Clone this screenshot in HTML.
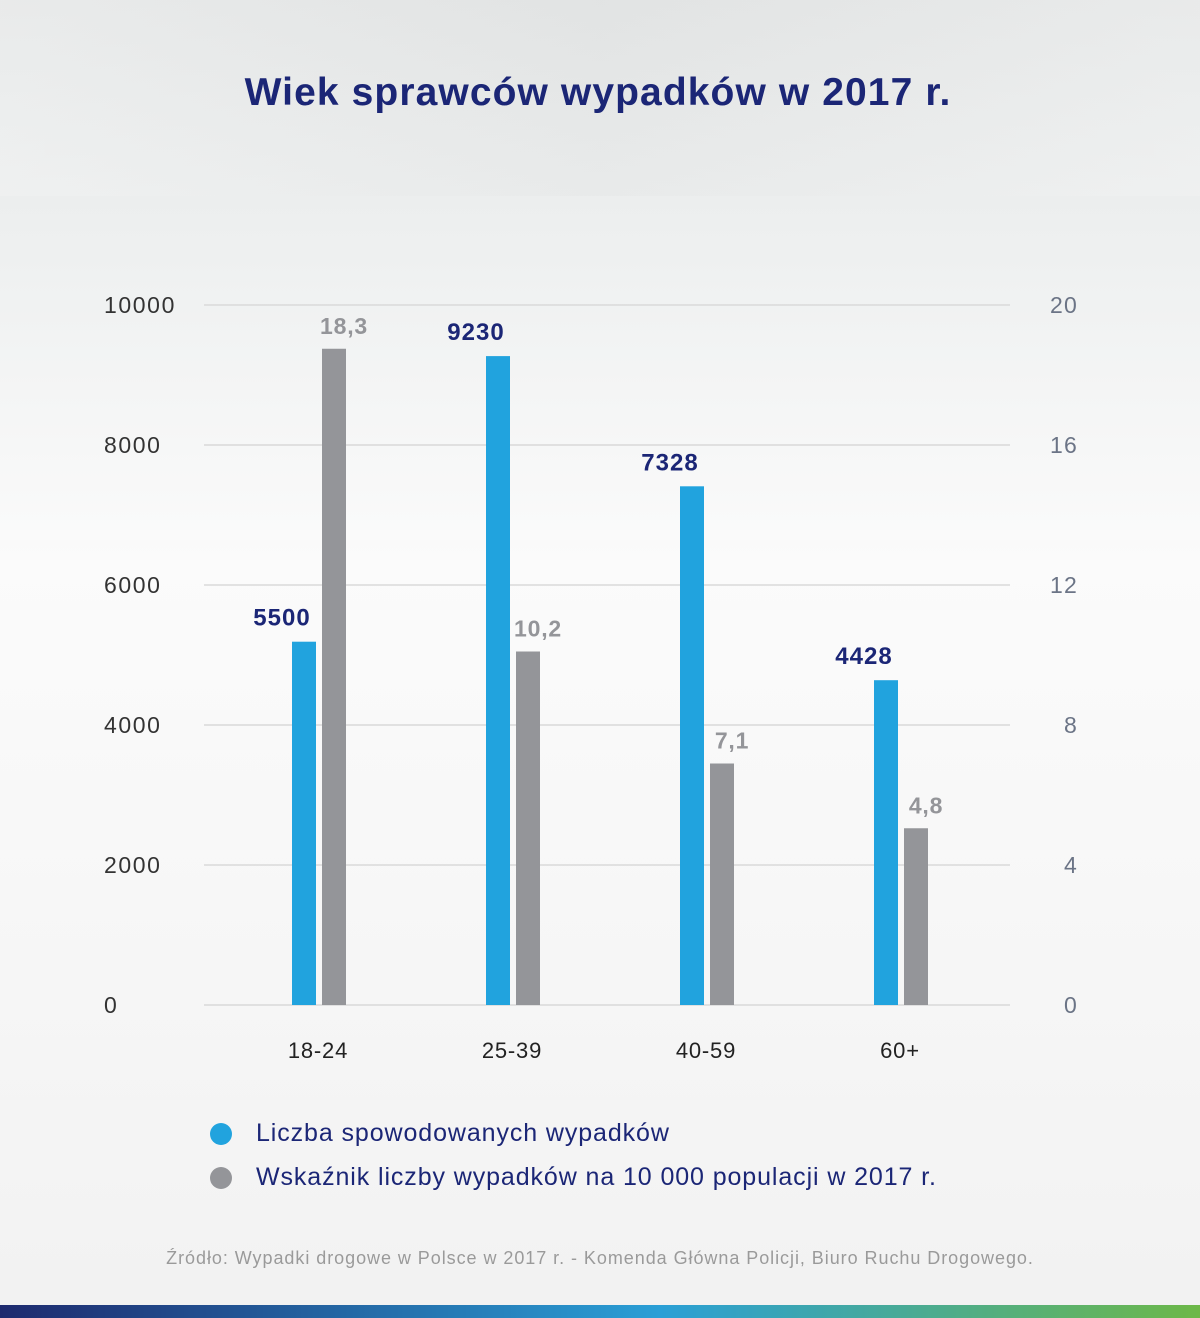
<!DOCTYPE html>
<html><head><meta charset="utf-8"><style>
html,body{margin:0;padding:0}
body{width:1200px;height:1318px;position:relative;overflow:hidden;font-family:"Liberation Sans",sans-serif;
background:linear-gradient(180deg,#e5e7e7 0px,#eef0f0 250px,#fbfbfb 560px,#f7f7f7 900px,#f2f2f2 1300px);}
</style></head><body>
<div style="position:absolute;left:0;top:0;width:1200px;height:196px;background:linear-gradient(90deg,rgba(255,255,255,0.15),rgba(0,0,0,0.015) 50%,rgba(255,255,255,0.15))"></div>
<div style="position:absolute;left:0;width:1196px;top:71px;text-align:center;font-size:39px;font-weight:bold;color:#1b2676;letter-spacing:1.1px;white-space:nowrap">Wiek sprawców wypadków w 2017 r.</div>
<svg id="chart" width="1200" height="1100" style="position:absolute;left:0;top:0"></svg>
<div style="position:absolute;left:210px;top:1118px;width:900px;color:#1b2676;font-size:25px;white-space:nowrap;letter-spacing:0.9px">
 <div style="position:relative;height:44px"><span style="position:absolute;left:0;top:5px;width:22px;height:22px;border-radius:50%;background:#21a3de"></span><span style="position:absolute;left:46px;top:1px">Liczba spowodowanych wypadków</span></div>
 <div style="position:relative;height:44px"><span style="position:absolute;left:0;top:5px;width:22px;height:22px;border-radius:50%;background:#949599"></span><span style="position:absolute;left:46px;top:1px">Wskaźnik liczby wypadków na 10 000 populacji w 2017 r.</span></div>
</div>
<div style="position:absolute;left:0;width:1200px;top:1248px;text-align:center;font-size:18px;letter-spacing:0.95px;color:#9a9a9a;white-space:nowrap">Źródło: Wypadki drogowe w Polsce w 2017 r. - Komenda Główna Policji, Biuro Ruchu Drogowego.</div>
<div style="position:absolute;left:0;top:1305px;width:1200px;height:13px;background:linear-gradient(90deg,#1e2a6e,#2a9fd6 55%,#6db848)"></div>
<script>
const categories=["18-24","25-39","40-59","60+"];
const countValues=[5190,9270,7410,4640];
const countLabels=["5500","9230","7328","4428"];
const rateValues=[18.75,10.1,6.9,5.05];
const rateLabels=["18,3","10,2","7,1","4,8"];
const leftTicks=[0,2000,4000,6000,8000,10000];
const rightTicks=[0,4,8,12,16,20];
const svg=document.getElementById('chart');
const NS='http://www.w3.org/2000/svg';
const y0=1005,y1=305;
const yL=v=>y0-(v/10000)*(y0-y1);
const yR=v=>y0-(v/20)*(y0-y1);
const xC=i=>318+i*194;
function mk(t,a,txt){const e=document.createElementNS(NS,t);for(const k in a)e.setAttribute(k,a[k]);if(txt!==undefined)e.textContent=txt;svg.appendChild(e);return e;}
leftTicks.forEach((t,i)=>{
 const l=mk('line',{x1:204,x2:1010,y1:yL(t),y2:yL(t),stroke:'#d9d9d9','stroke-width':1.5});
 
 const a=mk('text',{x:104,y:yL(t)+8,'font-size':23,'letter-spacing':1.6,fill:'#333'},t);
 
 const b=mk('text',{x:1078,y:yR(rightTicks[i])+8,'font-size':23,'letter-spacing':1.2,fill:'#6b7486','text-anchor':'end'},rightTicks[i]);
 
});
categories.forEach((c,i)=>{
 const x=xC(i);
 const r1=mk('rect',{x:x-26,y:yL(countValues[i]),width:24,height:y0-yL(countValues[i]),fill:'#21a3de'});
 
 const r2=mk('rect',{x:x+4,y:yR(rateValues[i]),width:24,height:y0-yR(rateValues[i]),fill:'#949599'});
 
 const t1=mk('text',{x:x-36,y:yL(countValues[i])-16,'font-size':24,'font-weight':'bold','letter-spacing':1,fill:'#1b2676','text-anchor':'middle'},countLabels[i]);
 
 const t2=mk('text',{x:x+26,y:yR(rateValues[i])-15,'font-size':23,'font-weight':'bold','letter-spacing':0.8,fill:'#949599','text-anchor':'middle'},rateLabels[i]);
 
 const cl=mk('text',{x:x,y:1058,'font-size':22,'letter-spacing':0.8,fill:'#222','text-anchor':'middle'},c);
 
});
</script>
</body></html>
